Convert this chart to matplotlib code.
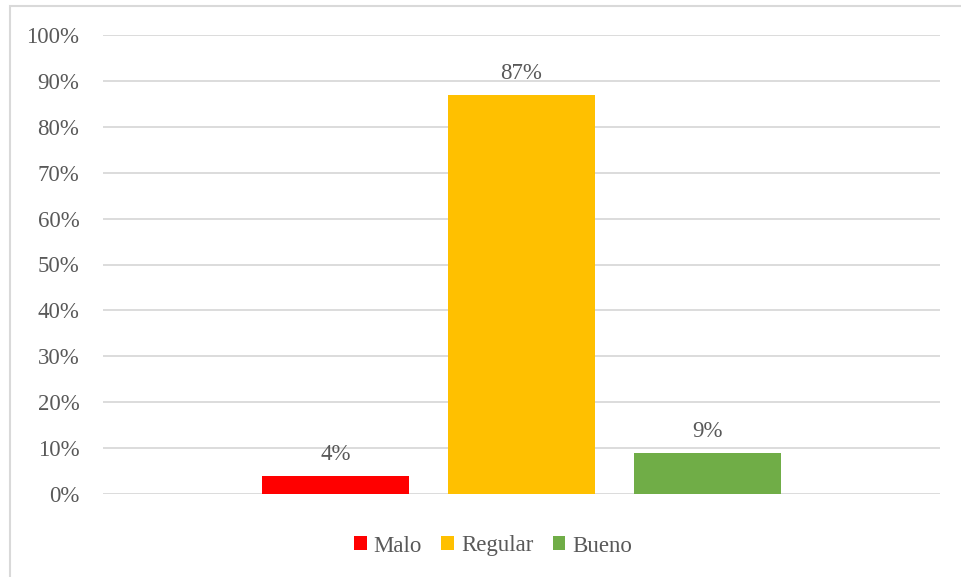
import numpy as np
import matplotlib.pyplot as plt
from matplotlib.patches import Rectangle

# datos
series = ['Malo', 'Regular', 'Bueno']
valores = [4, 87, 9]
colores = ['#ff0000', '#ffc000', '#70ad47']


def main():
    plt.rcParams['font.family'] = ['Liberation Serif', 'DejaVu Serif']
    txt = '#595959'
    grid = '#d9d9d9'

    fig = plt.figure(figsize=(9.62, 5.77), dpi=100)
    ax = fig.add_axes([103 / 962, 1 - 494 / 577, 837 / 962, 459 / 577])

    # borde del área del gráfico
    fig.patches.append(Rectangle((9.5 / 962, -0.05), 1.1, 1 - 5.5 / 577 + 0.05,
                                 transform=fig.transFigure, fill=False,
                                 edgecolor=grid, linewidth=1.5))

    offs = [-0.222, 0.0, 0.222]
    width = 0.176
    for i in range(len(series)):
        x = 0.5 + offs[i]
        ax.bar(x, valores[i], width=width, color=colores[i], label=series[i], zorder=3)
        ax.annotate(f'{valores[i]}%', (x, valores[i]), xytext=(0, 8),
                    textcoords='offset points', ha='center', va='bottom',
                    fontsize=16.5, color=txt)

    ax.set_xlim(0, 1)
    ax.set_ylim(0, 100)
    ax.set_yticks(np.arange(0, 101, 10))
    ax.set_yticklabels([f'{t}%' for t in range(0, 101, 10)])
    ax.set_xticks([])
    ax.tick_params(axis='y', length=0, pad=17, labelsize=16.5, labelcolor=txt)
    ax.grid(axis='y', color=grid, linewidth=1.3, zorder=0)
    for s in ax.spines.values():
        s.set_visible(False)

    leg = fig.legend(loc='center', bbox_to_anchor=(493 / 962, 1 - 546 / 577),
                     ncol=3, frameon=False, fontsize=16.5, handlelength=0.55,
                     handleheight=0.55, handletextpad=0.3, columnspacing=0.85,
                     labelcolor=txt)

    plt.savefig('out.png', dpi=100)


if __name__ == '__main__':
    main()
